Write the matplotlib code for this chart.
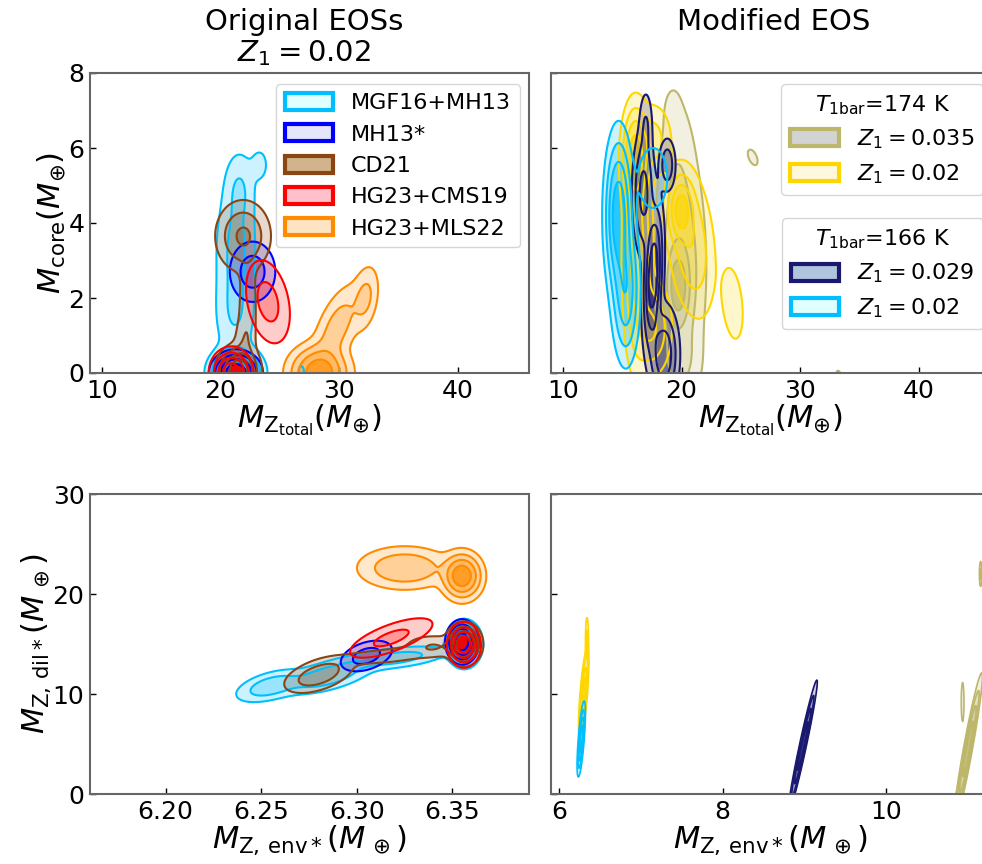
import numpy as np
import matplotlib
matplotlib.use('Agg')
import matplotlib.pyplot as plt
from matplotlib.patches import Patch
from matplotlib.colors import to_rgba

# ---------------- data: density blobs ----------------
# each row: (x_center, y_center, x_sigma, y_sigma, correlation, relative weight)

# top-left: M_core vs M_Z,total, original EOSs
orig_mgf16_top = [(21.3, 0.0, 1.05, 0.32, 0.0, 1.0),
                  (21.2, 1.6, 0.9, 0.7, 0.0, 0.15),
                  (21.3, 3.3, 0.9, 0.9, 0.0, 0.2),
                  (21.6, 4.9, 0.7, 0.55, 0.0, 0.15),
                  (23.3, 5.55, 0.5, 0.3, 0.0, 0.07),
                  (26.8, 0.05, 0.25, 0.15, 0.0, 0.06)]
orig_mh13_top = [(21.3, 0.0, 0.9, 0.25, 0.0, 1.0),
                 (22.7, 2.7, 1.0, 0.42, 0.0, 0.25)]
orig_cd21_top = [(21.5, 0.05, 0.8, 0.3, 0.0, 1.0),
                 (21.9, 3.65, 1.1, 0.45, 0.0, 0.4),
                 (22.3, 1.8, 0.45, 0.8, 0.0, 0.12),
                 (22.0, 0.8, 0.5, 0.4, 0.0, 0.1)]
orig_cms19_top = [(20.9, 0.0, 0.75, 0.28, 0.0, 1.0),
                  (24.0, 1.9, 1.0, 0.6, -0.3, 0.22)]
orig_mls22_top = [(28.3, 0.0, 1.2, 0.35, 0.0, 1.0),
                  (29.8, 1.2, 1.1, 0.6, 0.6, 0.25),
                  (32.2, 2.0, 0.6, 0.45, 0.3, 0.2)]

# top-right: modified EOS
mod_z035_top = [(19.7, 2.3, 0.55, 0.6, 0.0, 1.0),
                (19.9, 2.8, 1.1, 1.6, 0.0, 0.4),
                (19.6, 5.5, 0.9, 1.2, 0.0, 0.12),
                (19.2, 7.0, 0.45, 0.4, 0.0, 0.06),
                (19.8, 0.3, 1.0, 0.6, 0.0, 0.2),
                (26.0, 5.75, 0.6, 0.3, -0.5, 0.07),
                (33.2, 0.0, 0.35, 0.15, 0.0, 0.06)]
mod_z02w_top = [(16.1, 5.7, 0.55, 0.7, 0.0, 0.6),
                (16.3, 3.0, 0.6, 1.4, 0.0, 0.35),
                (19.95, 4.35, 0.55, 0.45, 0.0, 0.5),
                (20.8, 3.5, 1.0, 1.0, -0.3, 0.22),
                (17.5, 1.2, 0.8, 0.6, 0.0, 0.25),
                (24.3, 1.85, 0.55, 0.6, -0.3, 0.09),
                (17.6, 6.2, 0.8, 0.5, 0.0, 0.15)]
mod_z029_top = [(17.6, 2.6, 0.4, 0.9, 0.3, 1.0),
                (16.8, 4.8, 0.45, 0.8, 0.0, 0.45),
                (18.5, 0.5, 0.6, 0.6, 0.0, 0.6),
                (18.8, 5.55, 0.35, 0.35, 0.0, 0.3),
                (17.0, 6.6, 0.3, 0.5, 0.0, 0.15)]
mod_z02c_top = [(14.7, 4.2, 0.55, 1.0, 0.0, 1.0),
                (15.3, 2.2, 0.55, 0.9, 0.0, 0.6),
                (17.6, 5.2, 0.9, 0.6, 0.0, 0.1)]

# bottom-left: M_Z,dil* vs M_Z,env*, original EOSs
orig_mgf16_bot = [(6.356, 15.0, 0.004, 1.0, 0.0, 1.0),
                  (6.255, 10.8, 0.009, 0.8, 0.5, 0.3),
                  (6.285, 11.8, 0.012, 0.9, 0.6, 0.3),
                  (6.32, 13.6, 0.014, 0.6, 0.5, 0.25)]
orig_mh13_bot = [(6.355, 15.2, 0.0035, 0.9, 0.0, 1.0),
                 (6.305, 13.8, 0.007, 0.8, 0.4, 0.25)]
orig_cd21_bot = [(6.356, 15.0, 0.004, 0.9, 0.0, 1.0),
                 (6.28, 11.9, 0.009, 0.9, 0.5, 0.3),
                 (6.315, 13.8, 0.015, 0.5, 0.5, 0.12),
                 (6.34, 14.8, 0.008, 0.6, 0.0, 0.15)]
orig_cms19_bot = [(6.356, 14.9, 0.0035, 0.9, 0.0, 1.0),
                  (6.318, 15.6, 0.012, 1.1, 0.7, 0.2)]
orig_mls22_bot = [(6.355, 21.8, 0.005, 1.1, 0.0, 1.0),
                  (6.325, 22.6, 0.012, 1.05, 0.0, 0.35)]

# bottom-right: modified EOS
mod_z035_bot = [(11.0, 4.5, 0.07, 3.0, 0.95, 1.0),
                (10.935, 9.2, 0.01, 1.2, 0.0, 0.15),
                (11.155, 22.0, 0.008, 0.7, 0.0, 0.2)]
mod_z02w_bot = [(6.30, 10.0, 0.025, 1.8, 0.7, 1.0),
                (6.34, 15.5, 0.01, 1.2, 0.0, 0.2)]
mod_z029_bot = [(8.98, 4.8, 0.07, 2.6, 0.97, 1.0)]
mod_z02c_bot = [(6.27, 5.5, 0.02, 1.5, 0.7, 1.0)]

orig_labels = ['MGF16+MH13', 'MH13*', 'CD21', 'HG23+CMS19', 'HG23+MLS22']
orig_edge = ['deepskyblue', 'blue', 'saddlebrown', 'red', 'darkorange']
orig_face = ['lightcyan', 'lavender', 'tan', 'pink', 'bisque']

mod_labels_174 = [r'$Z_1 = 0.035$', r'$Z_1 = 0.02$']
mod_edge_174 = ['darkkhaki', 'gold']
mod_face_174 = ['lightgray', 'cornsilk']
mod_labels_166 = [r'$Z_1 = 0.029$', r'$Z_1 = 0.02$']
mod_edge_166 = ['midnightblue', 'deepskyblue']
mod_face_166 = ['lightsteelblue', 'lightcyan']

LEVELS = [0.04, 0.15, 0.35, 0.65]
FILL_ALPHA = [0.2, 0.4, 0.6, 0.85]


def density(comps, X, Y):
    Z = np.zeros_like(X)
    for cx, cy, sx, sy, rho, w in comps:
        dx = (X - cx) / sx
        dy = (Y - cy) / sy
        q = (dx ** 2 - 2 * rho * dx * dy + dy ** 2) / (1 - rho ** 2)
        Z += w * np.exp(-0.5 * q)
    return Z / Z.max()


def draw(ax, comps, color, xlim, ylim, n=600, lw=1.5):
    x = np.linspace(xlim[0], xlim[1], n)
    y = np.linspace(ylim[0], ylim[1], n)
    X, Y = np.meshgrid(x, y)
    Z = density(comps, X, Y)
    fills = [to_rgba(color, a) for a in FILL_ALPHA]
    ax.contourf(X, Y, Z, levels=LEVELS + [1.01], colors=fills)
    ax.contour(X, Y, Z, levels=LEVELS, colors=[color], linewidths=lw)


fig = plt.figure(figsize=(9.82, 8.64), dpi=100)
W, H = 982.0, 864.0


def add_axes(l, r, t, b):
    return fig.add_axes([l / W, (H - b) / H, (r - l) / W, (b - t) / H])


ax_tl = add_axes(90, 529, 73, 373)
ax_tr = add_axes(551, 990, 73, 373)
ax_bl = add_axes(90, 529, 494, 794)
ax_br = add_axes(551, 990, 494, 794)

xl_top = (9.0, 46.0)
yl_top = (0.0, 8.0)
xl_bl = (6.1605, 6.390)
xl_br = (5.9, 11.27)
yl_bot = (0.0, 30.0)

for comps, col in zip([orig_mgf16_top, orig_mh13_top, orig_cd21_top,
                       orig_cms19_top, orig_mls22_top], orig_edge):
    draw(ax_tl, comps, col, xl_top, (0.0, 8.0))
for comps, col in zip([orig_mgf16_bot, orig_mh13_bot, orig_cd21_bot,
                       orig_cms19_bot, orig_mls22_bot], orig_edge):
    draw(ax_bl, comps, col, xl_bl, (0.0, 30.0), n=700)
for comps, col in zip([mod_z035_top, mod_z02w_top, mod_z029_top, mod_z02c_top],
                      mod_edge_174 + mod_edge_166):
    draw(ax_tr, comps, col, xl_top, (0.0, 8.0))
for comps, col in zip([mod_z035_bot, mod_z02w_bot, mod_z029_bot, mod_z02c_bot],
                      mod_edge_174 + mod_edge_166):
    draw(ax_br, comps, col, xl_br, (0.0, 30.0), n=900, lw=1.2)

for ax in [ax_tl, ax_tr, ax_bl, ax_br]:
    ax.tick_params(direction='in', length=4, width=1, labelsize=18,
                   top=False, right=False, pad=4)
    for s in ax.spines.values():
        s.set_color('0.4')
        s.set_linewidth(1.5)

ax_tl.set_xlim(xl_top); ax_tl.set_ylim(yl_top)
ax_tr.set_xlim(xl_top); ax_tr.set_ylim(yl_top)
ax_bl.set_xlim(xl_bl); ax_bl.set_ylim(yl_bot)
ax_br.set_xlim(xl_br); ax_br.set_ylim(yl_bot)

ax_tl.set_xticks([10, 20, 30, 40]); ax_tr.set_xticks([10, 20, 30, 40])
ax_tl.set_yticks([0, 2, 4, 6, 8]); ax_tr.set_yticks([0, 2, 4, 6, 8])
ax_tr.set_yticklabels([])
ax_bl.set_xticks([6.20, 6.25, 6.30, 6.35])
ax_bl.set_xticklabels(['6.20', '6.25', '6.30', '6.35'])
ax_br.set_xticks([6, 8, 10])
ax_bl.set_yticks([0, 10, 20, 30]); ax_br.set_yticks([0, 10, 20, 30])
ax_br.set_yticklabels([])

lab = 22
ax_tl.set_xlabel(r'$M_{\rm Z_{total}}(M_{\oplus})$', fontsize=lab, labelpad=0)
ax_tr.set_xlabel(r'$M_{\rm Z_{total}}(M_{\oplus})$', fontsize=lab, labelpad=0)
ax_tl.set_ylabel(r'$M_{\rm core}(M_{\oplus})$', fontsize=lab, labelpad=0)
ax_bl.set_ylabel(r'$M_{\rm Z,\,dil*}(M_{\,\oplus})$', fontsize=lab, labelpad=0)
ax_bl.set_xlabel(r'$M_{\rm Z,\,env*}(M_{\,\oplus})$', fontsize=lab, labelpad=0)
ax_br.set_xlabel(r'$M_{\rm Z,\,env*}(M_{\,\oplus})$', fontsize=lab, labelpad=0)

fig.text(304 / W, 1 - 22 / H, 'Original EOSs', fontsize=21, ha='center', va='center')
fig.text(304 / W, 1 - 53 / H, r'$Z_1 = 0.02$', fontsize=21, ha='center', va='center')
fig.text(774 / W, 1 - 22 / H, 'Modified EOS', fontsize=21, ha='center', va='center')

h_orig = [Patch(facecolor=f, edgecolor=e, linewidth=3) for f, e in zip(orig_face, orig_edge)]
ax_tl.legend(h_orig, orig_labels, loc='upper right', fontsize=16,
             handlelength=2.2, handleheight=0.8, labelspacing=0.5,
             bbox_to_anchor=(1.005, 1.0))

h174 = [Patch(facecolor=f, edgecolor=e, linewidth=3) for f, e in zip(mod_face_174, mod_edge_174)]
h166 = [Patch(facecolor=f, edgecolor=e, linewidth=3) for f, e in zip(mod_face_166, mod_edge_166)]
leg1 = ax_tr.legend(h174, mod_labels_174, loc='upper right', fontsize=16,
                    title=r'$T_{\rm 1bar}$=174 K', title_fontsize=16,
                    handlelength=2.2, handleheight=0.8, labelspacing=0.5,
                    bbox_to_anchor=(1.01, 1.0))
ax_tr.add_artist(leg1)
ax_tr.legend(h166, mod_labels_166, loc='upper right', fontsize=16,
             bbox_to_anchor=(1.01, 0.553),
             title=r'$T_{\rm 1bar}$=166 K', title_fontsize=16,
             handlelength=2.2, handleheight=0.8, labelspacing=0.5)

fig.savefig('out.png', dpi=100)
